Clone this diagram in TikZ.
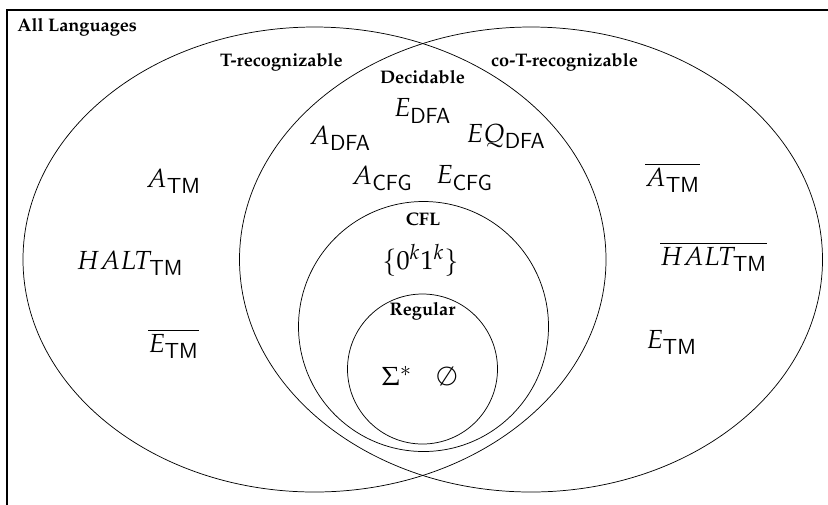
\documentclass[tikz,border=0pt]{standalone}
\usepackage[T1]{fontenc}
\usepackage{mathpazo}
\DeclareMathSizes{14.4}{14.4}{11.5}{8}
\usetikzlibrary{shapes.geometric}
\begin{document}
\begin{tikzpicture}[x=0.55pt,y=-0.55pt,
  lbl/.style={font=\bfseries, inner sep=0pt},
  lang/.style={font=\Large, inner sep=0pt},
  setell/.style={draw, ellipse, inner sep=0pt, minimum width=320.65pt, minimum height=255.75pt},
  setcirc/.style={draw, circle, inner sep=0pt}]
\useasboundingbox (0,0) rectangle (828,504);
\draw[semithick] (7,10) rectangle (840,520);
\node[setell] (trec) at (314.5,259.5) {};
\node[setell] (cotrec) at (531,259.5) {};
\node[setcirc, minimum size=137.5pt] (cfl) at (423.5,326.5) {};
\node[setcirc, minimum size=82.5pt] (reg) at (422.5,369) {};
% region labels
\node[lbl, anchor=west] (all) at (17,27) {All Languages};
\node[lbl] (tr) at (281.5,62) {T-recognizable};
\node[lbl] (ctr) at (564.5,62) {co-T-recognizable};
\node[lbl] (dec) at (422.5,77) {Decidable};
\node[lbl] (cfltxt) at (423,219) {CFL};
\node[lbl] (regtxt) at (422.5,311) {Regular};
% languages
\node[lang] (edfa) at (422.5,111) {$E_{\mathsf{DFA}}$};
\node[lang] (adfa) at (340,138) {$A_{\mathsf{DFA}}$};
\node[lang] (eqdfa) at (506,136) {$EQ_{\mathsf{DFA}}$};
\node[lang] (acfg) at (382,178) {$A_{\mathsf{CFG}}$};
\node[lang] (ecfg) at (464.5,178) {$E_{\mathsf{CFG}}$};
\node[lang] (zk) at (420.5,260) {$\{0^k1^k\}$};
\node[lang] (sig) at (397,376) {$\Sigma^*$};
\node[lang] (emp) at (447,376) {$\emptyset$};
\node[lang] (atm) at (173.5,181.5) {$A_{\mathsf{TM}}$};
\node[lang] (halt) at (130,263.5) {$HALT_{\mathsf{TM}}$};
\node[lang] (etmc) at (173.5,343.5) {$\overline{E_{\mathsf{TM}}}$};
\node[lang] (atmc) at (672.5,177.5) {$\overline{A_{\mathsf{TM}}}$};
\node[lang] (haltc) at (713.5,256.5) {$\overline{HALT_{\mathsf{TM}}}$};
\node[lang] (etm) at (671.5,342.5) {$E_{\mathsf{TM}}$};
\end{tikzpicture}
\end{document}
